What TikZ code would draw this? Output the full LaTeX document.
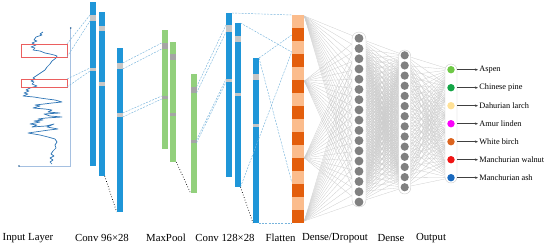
\documentclass[tikz,border=0pt]{standalone}
\usepackage{fontspec}
\setmainfont{Liberation Serif}
\usetikzlibrary{arrows.meta,backgrounds}
\definecolor{colblue}{RGB}{31,150,216}
\definecolor{colgreen}{RGB}{146,208,124}
\definecolor{bandblue}{RGB}{198,198,198}
\definecolor{bandgreen}{RGB}{165,165,165}
\definecolor{flatlight}{RGB}{251,188,140}
\definecolor{flatdark}{RGB}{227,94,12}
\definecolor{dotgray}{RGB}{128,128,128}
\definecolor{dashblue}{RGB}{120,180,220}
\definecolor{curveblue}{RGB}{46,117,182}
\definecolor{axisblue}{RGB}{165,192,225}
\definecolor{redbox}{RGB}{235,95,95}
\definecolor{fcgray}{RGB}{205,205,205}
\definecolor{oc1}{RGB}{110,200,70}
\definecolor{oc2}{RGB}{20,165,70}
\definecolor{oc3}{RGB}{255,225,150}
\definecolor{oc4}{RGB}{250,0,250}
\definecolor{oc5}{RGB}{220,100,30}
\definecolor{oc6}{RGB}{240,20,20}
\definecolor{oc7}{RGB}{25,105,190}
\begin{document}
\begin{tikzpicture}[x=1pt,y=-1pt,
  bluecol/.style={draw=none,fill=colblue,inner sep=0,outer sep=0,anchor=north west,minimum width=6pt},
  greencol/.style={draw=none,fill=colgreen,inner sep=0,outer sep=0,anchor=north west,minimum width=6pt},
  bandB/.style={draw=none,fill=bandblue,inner sep=0,outer sep=0,anchor=north west,minimum width=6pt},
  bandG/.style={draw=none,fill=bandgreen,inner sep=0,outer sep=0,anchor=north west,minimum width=6pt},
  flatseg/.style={draw=none,inner sep=0,outer sep=0,anchor=north west,minimum width=12.6pt,minimum height=13pt},
  dsh/.style={draw=dashblue,dashed,dash pattern=on 2pt off 1.2pt,line width=0.45pt},
  dotline/.style={draw=black,dotted,line width=0.7pt},
  fc/.style={draw=fcgray,line width=0.3pt},
  panel/.style={draw=black!20,fill=white,line width=0.4pt,inner sep=0},
  unit/.style={circle,fill=dotgray,draw=none,inner sep=0},
  redrect/.style={draw=redbox,line width=1pt},
  lab/.style={font=\fontsize{10.8}{12}\selectfont,inner sep=0},
  olab/.style={font=\fontsize{8.3}{9}\selectfont,anchor=west,inner sep=1.2pt},
  oarrow/.style={draw=black!75,line width=0.45pt,-{Stealth[length=3pt,width=2.4pt]}}
]
\useasboundingbox (0,0) rectangle (550,247);

% ---------- input layer ----------
\coordinate (axt) at (70.7,28);
\coordinate (ax0) at (70.7,166);
\coordinate (axl) at (19,166);
\draw[axisblue,line width=0.7pt] (axt) -- (ax0) -- (axl);
\fill[curveblue!80!black] (axt) circle (0.9);
\fill[curveblue!80!black] (axl) circle (0.9);
\draw[curveblue,line width=0.7pt,line join=round] plot coordinates {
(43,32)(40,34)(42,35)(36,37)(34,40)(37,41)(32,43)(36,45)(31,47)(35,48)(33,50)(40,51)(45,53)(50,54)(54,55)(57,56)(56,58)(52,61)(50,64)(47,67)(45,70)(42,72)(39,74)(36,76)(33,78)(35,79)(31,81)(34,82)(32,84)(37,86)(30,88)(26,90)(29,91)(24,93)(28,94)(23,96)(34,97)(40,98)(47,99)(55,100)(62,102)(52,103)(44,104)(35,105)(40,106)(33,108)(45,109)(52,110)(48,112)(60,113)(44,114)(50,116)(62,117)(46,118)(38,119)(43,120)(34,121)(40,122)(30,124)(37,125)(32,127)(46,126)(54,124)(47,127)(58,129)(49,130)(42,131)(35,132)(28,133)(34,134)(40,135)(48,137)(55,139)(57,142)(55,145)(56,148)(53,151)(51,154)(54,156)(50,158)(53,160)(50,162)(52,164)};
\coordinate (wa1) at (21,44);
\coordinate (wb1) at (67,57);
\coordinate (wa2) at (21,79);
\coordinate (wb2) at (67,87);
\draw[redrect] (wa1) rectangle (wb1);
\draw[redrect] (wa2) rectangle (wb2);
\coordinate (w1ne) at (67,44);
\coordinate (w2ne) at (67,79);

% ---------- conv 96x28 ----------
\foreach \n/\x/\y/\h in {c1a/90/2/164, c1b/98.7/12/164, c1c/116.7/48/164}
  \node[bluecol,minimum height=\h pt] (\n) at (\x,\y) {};
\foreach \n/\x/\y/\h in {c1a1/90/15/6, c1a2/90/68/3, c1b1/98.7/26/5, c1b2/98.7/82/4, c1c1/116.7/63/6, c1c2/116.7/113/4}
  \node[bandB,minimum height=\h pt] (\n) at (\x,\y) {};

% ---------- maxpool ----------
\foreach \n/\x/\y/\h in {g1/161.7/30/119, g2/170.3/42/120, g3/190.5/74/119}
  \node[greencol,minimum height=\h pt] (\n) at (\x,\y) {};
\foreach \n/\x/\y/\h in {g1b1/161.7/43/6, g1b2/161.7/96/3, g2b1/170.3/54/6, g2b2/170.3/113/2.5, g3b1/190.5/87/6, g3b2/190.5/140/3}
  \node[bandG,minimum height=\h pt] (\n) at (\x,\y) {};

% ---------- conv 128x28 ----------
\foreach \n/\x/\y/\h in {d1/226/13/164, d2/234.5/23/164, d3/253/58/165}
  \node[bluecol,minimum height=\h pt] (\n) at (\x,\y) {};
\foreach \n/\x/\y/\h in {d1b1/226/25/7, d1b2/226/79/3, d2b1/234.5/36/6, d2b2/234.5/93/3, d3b1/253/74/6, d3b2/253/124/3}
  \node[bandB,minimum height=\h pt] (\n) at (\x,\y) {};

% ---------- flatten ----------
\foreach \i in {0,2,...,14}
  \node[flatseg,fill=flatlight] (fs\i) at (291.7,{15+\i*13}) {};
\foreach \i in {1,3,...,15}
  \node[flatseg,fill=flatdark] (fs\i) at (291.7,{15+\i*13}) {};
\node[inner sep=0,outer sep=0,anchor=north west,minimum width=12.6pt,minimum height=208pt] (flat) at (291.7,15) {};
\coordinate (fl35) at (291.7,35);
\coordinate (fl52) at (291.7,52);
\coordinate (fl182) at (291.7,182);
\coordinate (fp1) at (304.3,16);
\coordinate (fp2) at (304.3,81);
\coordinate (fp3) at (304.3,158);
\coordinate (fp4) at (304.3,221);

% ---------- dense layers ----------
\node[panel,rounded corners=7pt,minimum width=14pt,minimum height=175pt] (ddbox) at (359,119.5) {};
\foreach \i in {1,...,17}
  \node[unit,minimum size=8.8pt] (dd\i) at (359,{38.3+(\i-1)*10.23}) {};
\node[panel,rounded corners=6pt,minimum width=12pt,minimum height=144pt] (dnbox) at (404.7,122) {};
\foreach \i in {1,...,14}
  \node[unit,minimum size=8.2pt] (dn\i) at (404.7,{55.3+(\i-1)*10.15}) {};
\node[panel,rounded corners=6pt,minimum width=12pt,minimum height=119pt] (obox) at (451,123.5) {};
\foreach \i/\t in {1/Aspen,2/Chinese pine,3/Dahurian larch,4/Amur linden,5/White birch,6/Manchurian walnut,7/Manchurian ash}{
  \node[circle,fill=oc\i,inner sep=0,minimum size=7.4pt] (o\i) at (451,{69.7+(\i-1)*18}) {};
  \node[olab] (ol\i) at (478,{69.7+(\i-1)*18}) {\t};
  \draw[oarrow] (o\i.east -| obox.east) -- (ol\i.west);
}

% ---------- full connections (behind) ----------
\begin{pgfonlayer}{background}
\foreach \p in {1,...,4}
  \foreach \i in {1,...,17}
    \draw[fc] (fp\p) -- (dd\i.center);
\foreach \i in {1,...,17}
  \foreach \j in {1,...,14}
    \draw[fc] (dd\i.center) -- (dn\j.center);
\foreach \i in {1,...,14}
  \foreach \j in {1,...,7}
    \draw[fc] (dn\i.center) -- (o\j.center);
\end{pgfonlayer}

% ---------- dashed projections ----------
\draw[dsh] (w1ne) -- (c1a1.north west);
\draw[dsh] (wb1) -- (c1a1.south west);
\draw[dsh] (w2ne) -- (c1a2.north west);
\draw[dsh] (wb2) -- (c1a2.south west);
\draw[dsh] (c1c1.north east) -- (g1b1.north west);
\draw[dsh] (c1c1.south east) -- (g1b1.south west);
\draw[dsh] (c1c2.north east) -- (g1b2.north west);
\draw[dsh] (c1c2.south east) -- (g1b2.south west);
\draw[dsh] (g3b1.north east) -- (d1b1.north west);
\draw[dsh] (g3b1.south east) -- (d1b1.south west);
\draw[dsh] (g3b2.north east) -- (d1b2.north west);
\draw[dsh] (g3b2.south east) -- (d1b2.south west);
\draw[dsh] (d1.north east) -- (flat.north west);
\draw[dsh] (d2.north east) -- (fl52);
\draw[dsh] (d2.south east) -- (fl52);
\draw[dsh] (d3.north east) -- (fl35);
\draw[dsh] (d3.north east) -- (fl182);
\draw[dsh] (d3.south east) -- (flat.south west);

% ---------- dotted depth lines ----------
\draw[dotline] (c1b.south east) -- (c1c.south west);
\draw[dotline] (g2.south east) -- (g3.south west);
\draw[dotline] (d2.south east) -- (d3.south west);

% ---------- labels ----------
\node[lab] (lin) at (28,238) {Input Layer};
\node[lab] (lc1) at (102,238) {Conv 96×28};
\node[lab] (lmp) at (166,238) {MaxPool};
\node[lab] (lc2) at (225,238) {Conv 128×28};
\node[lab] (lfl) at (280.5,238) {Flatten};
\node[lab] (ldd) at (335,238) {Dense/Dropout};
\node[lab] (ldn) at (391,238) {Dense};
\node[lab] (lout) at (431,238) {Output};
\end{tikzpicture}
\end{document}
